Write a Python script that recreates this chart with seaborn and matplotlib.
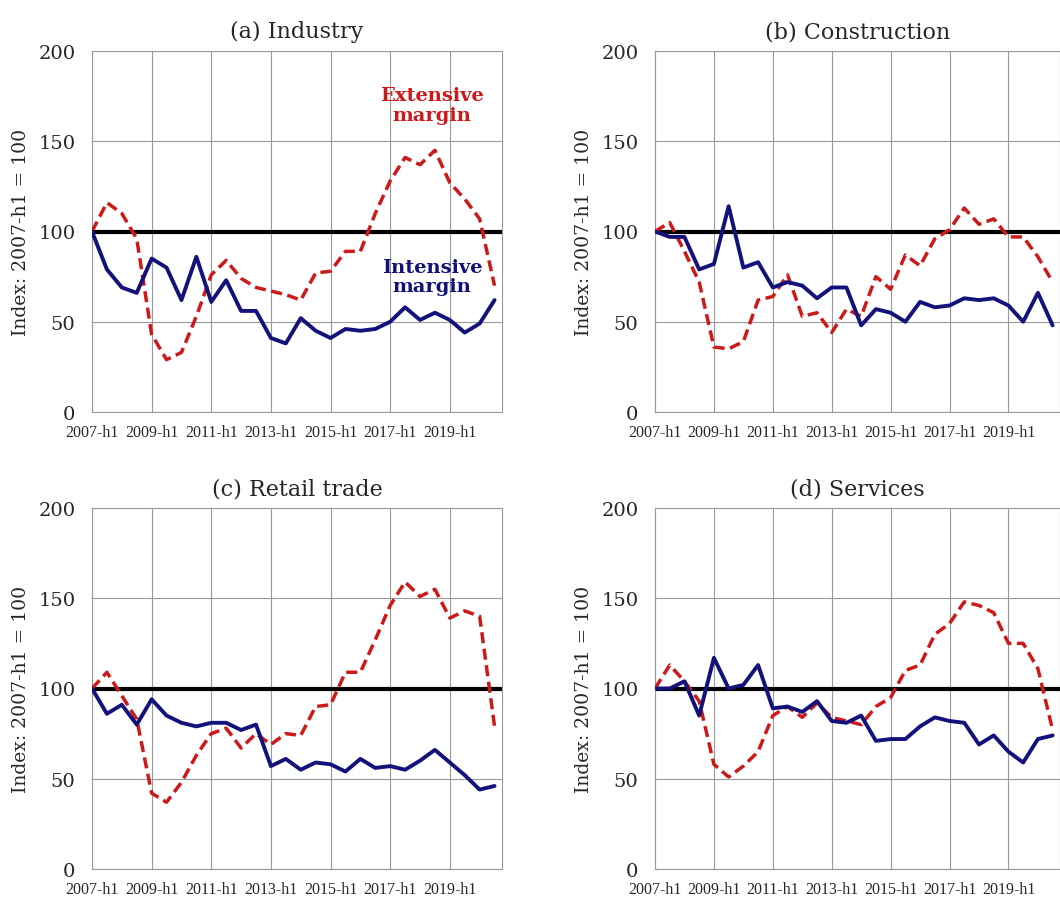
import numpy as np
import pandas as pd
import matplotlib
matplotlib.use('Agg')
import matplotlib.pyplot as plt
import seaborn as sns

sns.set_style('white')

periods = [f'{y}-h{h}' for y in range(2007, 2021) for h in (1, 2)]
tick_labels = periods[::4]

industry_int = [100, 79, 69, 66, 85, 80, 62, 86, 61, 73, 56, 56, 41, 38, 52, 45, 41, 46, 45, 46, 50, 58, 51, 55, 51, 44, 49, 62]
industry_ext = [100, 116, 110, 96, 43, 29, 33, 53, 76, 84, 74, 69, 67, 65, 62, 77, 78, 89, 89, 110, 128, 141, 137, 145, 127, 118, 107, 70]
constr_int = [100, 97, 97, 79, 82, 114, 80, 83, 69, 72, 70, 63, 69, 69, 48, 57, 55, 50, 61, 58, 59, 63, 62, 63, 59, 50, 66, 48]
constr_ext = [100, 105, 89, 72, 36, 35, 39, 62, 64, 76, 53, 55, 44, 57, 53, 75, 68, 87, 81, 96, 101, 113, 104, 107, 97, 97, 86, 72]
retail_int = [100, 86, 91, 80, 94, 85, 81, 79, 81, 81, 77, 80, 57, 61, 55, 59, 58, 54, 61, 56, 57, 55, 60, 66, 59, 52, 44, 46]
retail_ext = [100, 109, 96, 83, 42, 37, 48, 63, 75, 78, 67, 75, 69, 75, 74, 90, 91, 109, 109, 127, 146, 159, 151, 155, 139, 143, 140, 79]
serv_int = [100, 100, 104, 85, 117, 100, 102, 113, 89, 90, 87, 93, 82, 81, 85, 71, 72, 72, 79, 84, 82, 81, 69, 74, 65, 59, 72, 74]
serv_ext = [100, 113, 104, 93, 58, 51, 57, 65, 85, 90, 84, 92, 84, 82, 80, 90, 95, 110, 113, 130, 136, 148, 146, 142, 125, 125, 111, 77]

panels = [('(a) Industry', industry_int, industry_ext),
          ('(b) Construction', constr_int, constr_ext),
          ('(c) Retail trade', retail_int, retail_ext),
          ('(d) Services', serv_int, serv_ext)]

navy = '#12127a'
red = '#cc1a1a'
W, H = 1060, 903
fig = plt.figure(figsize=(W / 100, H / 100), dpi=100)
boxes = [(92, 502, 52, 413), (655, 1060, 52, 413), (92, 502, 509, 870), (655, 1060, 509, 870)]

for (title, intv, extv), (l, r, t, b) in zip(panels, boxes):
    ax = fig.add_axes([l / W, 1 - b / H, (r - l) / W, (b - t) / H])
    df = pd.DataFrame({'i': np.arange(len(periods)), 'int': intv, 'ext': extv})
    ax.axhline(100, color='black', lw=3, zorder=2)
    sns.lineplot(data=df, x='i', y='ext', ax=ax, color=red, lw=2.5, zorder=3)
    ax.lines[-1].set_linestyle((0, (3.2, 1.6)))
    sns.lineplot(data=df, x='i', y='int', ax=ax, color=navy, lw=2.8, zorder=4)
    ax.set_xlim(0, 27.5)
    ax.set_ylim(0, 200)
    ax.set_xticks(range(0, 28, 4))
    ax.set_xticklabels(tick_labels, fontfamily='Liberation Serif', fontsize=11.5)
    ax.set_yticks([0, 50, 100, 150, 200])
    ax.set_yticklabels(['0', '50', '100', '150', '200'], fontfamily='DejaVu Serif', fontsize=14)
    ax.tick_params(axis='x', pad=9, length=0)
    ax.tick_params(axis='y', pad=12, length=0)
    ax.grid(True, color='#999999', lw=0.8)
    for s in ax.spines.values():
        s.set_color('#999999')
        s.set_linewidth(0.8)
    ax.set_xlabel('')
    ax.set_ylabel('Index: 2007-h1 = 100', fontfamily='DejaVu Serif', fontsize=13.5, labelpad=6)
    ax.set_title(title, fontfamily='DejaVu Serif', fontsize=16, pad=10)
    if title.startswith('(a)'):
        ax.text(22.8, 170, 'Extensive\nmargin', color=red, fontfamily='DejaVu Serif',
                fontweight='bold', fontsize=14, ha='center', va='center', linespacing=1.1)
        ax.text(22.8, 75, 'Intensive\nmargin', color=navy, fontfamily='DejaVu Serif',
                fontweight='bold', fontsize=14, ha='center', va='center', linespacing=1.1)

fig.savefig('out.png', dpi=100)
